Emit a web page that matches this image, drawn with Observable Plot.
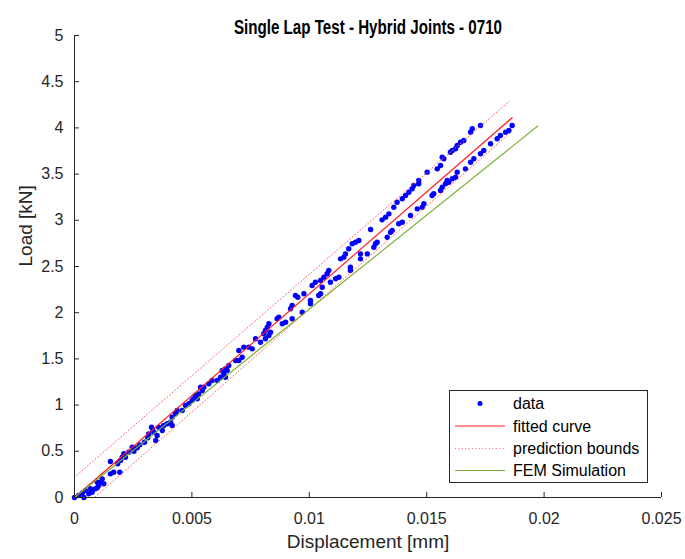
<!DOCTYPE html>
<html>
<head>
<meta charset="utf-8">
<script src="https://cdn.jsdelivr.net/npm/d3@7"></script>
<script src="https://cdn.jsdelivr.net/npm/@observablehq/plot@0.6"></script>
<style>
  body { margin: 0; background: #fff; }
  #wrap { position: relative; width: 685px; height: 559px; background: #fff; }
  #legend { position: absolute; left: 449px; top: 390px; }
</style>
</head>
<body>
<div id="wrap"></div>
<script>
// ---- Data ----
const titleText = "Single Lap Test - Hybrid Joints - 0710";
const xLabel = "Displacement [mm]";
const yLabel = "Load [kN]";
const xTicks = [0, 0.005, 0.01, 0.015, 0.02, 0.025];
const yTicks = [0, 0.5, 1, 1.5, 2, 2.5, 3, 3.5, 4, 4.5, 5];
const legendLabels = ["data", "fitted curve", "prediction bounds", "FEM Simulation"];

// measured data points (displacement [mm], load [kN])
const dataX = [
  0.00328,0.00333,0.00312,0.00298,0.00278,0.00267,0.00246,0.00253,0.00231,0.00210,0.00203,0.00217,0.00196,0.00184,0.00193,0.00167,0.00153,0.00118,0.00111,0.00103,0.00089,0.00068,0.00047,0.00061,0.00033,0.00040,0.00018,0.00000,0.00075,0.00097,0.00125,0.00346,0.00153,0.00097,
  0.00650,0.00636,0.00643,0.00622,0.00608,0.00586,0.00572,0.00551,0.00537,0.00544,0.00529,0.00515,0.00508,0.00501,0.00523,0.00487,0.00473,0.00459,0.00437,0.00430,0.00416,0.00409,0.00395,0.00380,0.00359,0.00338,0.00316,0.00352,0.00416,0.00374,
  0.00977,0.00941,0.00951,0.00927,0.00920,0.00970,0.00927,0.00899,0.00885,0.00870,0.00863,0.00828,0.00821,0.00813,0.00835,0.00828,0.00813,0.00806,0.00792,0.00771,0.00757,0.00742,0.00721,0.00700,0.00714,0.00700,0.00686,0.00657,0.00643,0.00629,
  0.01261,0.01275,0.01282,0.01247,0.01218,0.01211,0.01197,0.01183,0.01168,0.01154,0.01147,0.01133,0.01218,0.01175,0.01175,0.01126,0.01112,0.01090,0.01083,0.01076,0.01062,0.01048,0.01026,0.01012,0.01055,0.01048,0.01040,0.01005,0.01005,
  0.01601,0.01566,0.01559,0.01545,0.01502,0.01466,0.01466,0.01445,0.01438,0.01424,0.01410,0.01396,0.01374,0.01360,0.01339,0.01325,0.01310,0.01594,0.01580,0.01566,0.01559,0.01530,0.01523,0.01488,0.01481,0.01460,0.01431,0.01396,0.01381,0.01353,0.01346,0.01332,0.01289,
  0.01864,0.01850,0.01836,0.01814,0.01800,0.01772,0.01743,0.01729,0.01701,0.01687,0.01665,0.01630,0.01623,0.01609,0.01587,0.01729,0.01694,0.01687,0.01658,0.01644,0.01630,0.01623,0.01609,0.01573
];
const dataY = [
  0.761,0.733,0.646,0.598,0.570,0.538,0.544,0.501,0.490,0.473,0.436,0.436,0.400,0.365,0.274,0.274,0.256,0.202,0.166,0.130,0.094,0.094,0.076,0.040,0.047,0.000,0.022,0.000,0.057,0.166,0.148,0.617,0.390,0.105,
  1.374,1.339,1.302,1.302,1.266,1.266,1.231,1.194,1.194,1.158,1.122,1.104,1.068,1.050,1.068,1.014,0.996,0.942,0.942,0.906,0.869,0.815,0.798,0.779,0.761,0.707,0.689,0.671,0.779,0.725,
  2.205,2.186,2.168,2.078,2.042,2.005,1.934,1.897,1.880,1.951,1.934,1.880,1.843,1.807,1.789,1.753,1.718,1.772,1.681,1.718,1.609,1.627,1.627,1.591,1.518,1.483,1.483,1.429,1.393,1.374,
  2.900,2.709,2.746,2.637,2.637,2.781,2.763,2.746,2.692,2.637,2.601,2.583,2.583,2.492,2.457,2.384,2.367,2.330,2.457,2.421,2.384,2.348,2.330,2.294,2.276,2.205,2.186,2.132,2.096,
  3.737,3.683,3.593,3.557,3.521,3.431,3.395,3.377,3.341,3.304,3.268,3.233,3.196,3.142,3.070,3.034,3.005,3.412,3.395,3.358,3.323,3.287,3.268,3.179,3.142,3.124,3.052,2.979,2.962,2.890,2.871,2.817,2.763,
  4.026,3.972,3.953,3.918,3.882,3.828,3.755,3.720,3.666,3.629,3.557,3.521,3.466,3.449,3.431,4.026,3.990,3.953,3.864,3.845,3.810,3.774,3.755,3.666
];

// fitted curve
const fitX = [0, 0.01864];
const fitY = [0, 4.11];
// prediction bounds
const upperX = [0, 0.01853];
const upperY = [0.22, 4.29];
const lowerX = [0, 0.01853];
const lowerY = [-0.19, 3.94];
// FEM simulation
const femX = [0, 0.01973];
const femY = [0, 4.02];

// ---- Build tables ----
const pts = dataX.map((x, i) => ({x, y: dataY[i]}));
const toRows = (xs, ys) => xs.map((x, i) => ({x, y: ys[i]}));
const fit = toRows(fitX, fitY);
const upper = toRows(upperX, upperY);
const lower = toRows(lowerX, lowerY);
const fem = toRows(femX, femY);

const axisColor = "#262626";
const font = "'Liberation Sans', Arial, Helvetica, sans-serif";
const fmt = d => String(d);

const chart = Plot.plot({
  width: 685,
  height: 559,
  marginLeft: 74,
  marginRight: 24,
  marginTop: 35,
  marginBottom: 62,
  style: {fontFamily: font, fontSize: "16px", color: axisColor, background: "#fff"},
  x: {domain: [0, 0.025]},
  y: {domain: [0, 5]},
  marks: [
    Plot.dot(pts, {x: "x", y: "y", r: 2.7, fill: "#0000ff", stroke: "none"}),
    Plot.line(fit, {x: "x", y: "y", stroke: "#ff2020", strokeWidth: 1.2}),
    Plot.line(upper, {x: "x", y: "y", stroke: "#ff6060", strokeWidth: 1, strokeDasharray: "1,2.4", clip: true}),
    Plot.line(lower, {x: "x", y: "y", stroke: "#ff6060", strokeWidth: 1, strokeDasharray: "1,2.4", clip: true}),
    Plot.line(fem, {x: "x", y: "y", stroke: "#77ac30", strokeWidth: 1.1}),
    Plot.ruleX([0], {stroke: axisColor}),
    Plot.ruleY([0], {stroke: axisColor}),
    Plot.tickX(xTicks, {x: d => d, stroke: axisColor, insetTop: 457}),
    Plot.tickY(yTicks, {y: d => d, stroke: axisColor, insetRight: 582}),
    Plot.axisX({ticks: xTicks, tickFormat: fmt, tickSize: 0, tickPadding: 15, label: null, fill: axisColor, fontSize: 16}),
    Plot.axisY({ticks: yTicks, tickFormat: fmt, tickSize: 0, tickPadding: 11, label: null, fill: axisColor, fontSize: 16}),
    Plot.text([xLabel], {frameAnchor: "bottom", dy: 50, fontSize: 19, fill: axisColor}),
    Plot.text([yLabel], {frameAnchor: "left", dx: -49, rotate: -90, fontSize: 19, fill: axisColor}),
    Plot.text([titleText], {frameAnchor: "top", dy: -16, fontSize: 20, fontWeight: "bold", fill: "#000"})
  ]
});

// condense title like the reference (narrow Helvetica)
d3.select(chart).selectAll("text").filter(function() { return this.textContent === titleText; })
  .attr("textLength", 268).attr("lengthAdjust", "spacingAndGlyphs");

const wrap = document.getElementById("wrap");
wrap.appendChild(chart);

// ---- Legend ----
const lg = d3.create("svg").attr("id", "legend").attr("width", 199).attr("height", 93)
  .style("font-family", font).style("font-size", "16px");
lg.append("rect").attr("x", 0.5).attr("y", 0.5).attr("width", 198).attr("height", 92)
  .attr("fill", "#fff").attr("stroke", axisColor).attr("stroke-width", 1);
const rowsY = [13.5, 36, 58.5, 80.5];
lg.append("circle").attr("cx", 31).attr("cy", rowsY[0]).attr("r", 2.5).attr("fill", "#0000ff");
lg.append("line").attr("x1", 6).attr("x2", 56).attr("y1", rowsY[1]).attr("y2", rowsY[1])
  .attr("stroke", "#ff2020").attr("stroke-width", 1.2);
lg.append("line").attr("x1", 6).attr("x2", 56).attr("y1", rowsY[2]).attr("y2", rowsY[2])
  .attr("stroke", "#ff6060").attr("stroke-dasharray", "1,2.4");
lg.append("line").attr("x1", 6).attr("x2", 56).attr("y1", rowsY[3]).attr("y2", rowsY[3])
  .attr("stroke", "#77ac30").attr("stroke-width", 1.1);
legendLabels.forEach((t, i) => {
  lg.append("text").attr("x", 64).attr("y", rowsY[i]).attr("dy", "0.35em")
    .attr("fill", "#000").text(t);
});
wrap.appendChild(lg.node());
</script>
</body>
</html>
